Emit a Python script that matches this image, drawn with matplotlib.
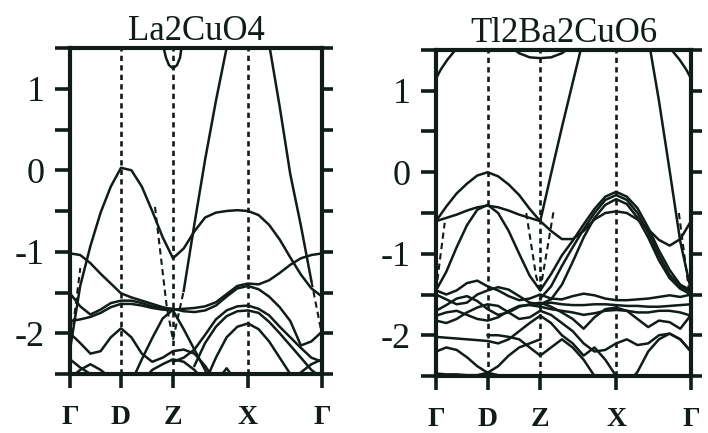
"""
Band structures of La2CuO4 and Tl2Ba2CuO6 along G-D-Z-X-G, energies in eV read off the figure
"""

import numpy as np
import matplotlib.pyplot as plt

nan = np.nan

# high symmetry points (path coordinate) and their labels
kpts = [0.0, 0.51, 1.03, 1.78, 2.52]
klabels = ['Γ', 'D', 'Z', 'X', 'Γ']

# sampling points along the path: G-D | D-Z | Z-X | X-G
k = [0.0, 0.102, 0.204, 0.306, 0.408, 0.51,
     0.614, 0.718, 0.822, 0.926, 1.03,
     1.137, 1.244, 1.351, 1.459, 1.566, 1.673, 1.78,
     1.886, 1.991, 2.097, 2.203, 2.309, 2.414, 2.52]

################# La2CuO4 #####################
la_b1 = [-2.2, -1.42, -0.93, -0.52, -0.2, 0.03,
         0.0, -0.2, -0.5, -0.82, -1.08,
         -0.96, -0.75, -0.58, -0.52, -0.5, -0.49, -0.5,
         -0.55, -0.67, -0.85, -1.07, -1.28, -1.45, -1.55]
la_steep1 = [nan, nan, nan, nan, nan, nan,
             nan, nan, nan, nan, nan,
             -1.48, -0.66, 0.13, 0.85, 1.5, 2.1, nan,
             nan, nan, nan, nan, nan, nan, nan]
la_steep2 = [nan, nan, nan, nan, nan, nan,
             nan, nan, nan, nan, nan,
             nan, nan, nan, nan, nan, nan, nan,
             2.4, 1.55, 0.78, -0.05, -0.68, -1.36, nan]
la_b2 = [-1.02, -1.04, -1.14, -1.27, -1.39, -1.51,
         -1.56, -1.6, -1.64, -1.68, -1.71,
         -1.7, -1.69, -1.67, -1.62, -1.52, -1.42, -1.39,
         -1.4, -1.35, -1.26, -1.16, -1.08, -1.04, -1.02]
la_b3 = [-1.51, -1.67, -1.77, -1.71, -1.63, -1.6,
         -1.6, -1.63, -1.67, -1.69, -1.7,
         -1.73, -1.74, -1.72, -1.66, -1.55, -1.45, -1.42,
         -1.46, -1.55, -1.68, -1.85, -2.15, -2.1, -1.98]
la_b4 = [-1.85, -1.83, -1.8, -1.75, -1.68, -1.64,
         -1.64, -1.66, -1.69, -1.71, -1.72,
         -1.95, -2.2, -2.45, -2.7, nan, nan, nan,
         nan, nan, nan, nan, nan, nan, nan]
la_b5 = [-2.0, -2.12, -2.25, -2.22, -2.05, -1.94,
         -2.05, -2.25, -2.35, -2.3, -2.22,
         -2.2, -2.25, -2.4, -2.6, nan, nan, nan,
         nan, nan, nan, nan, nan, nan, nan]
la_fan = [nan, nan, nan, nan, nan, nan,
          -2.6, -2.32, -2.06, -1.82, -1.71,
          nan, nan, nan, nan, nan, nan, nan,
          nan, nan, nan, nan, nan, nan, nan]
la_cA = [nan, nan, nan, nan, nan, nan,
         nan, nan, nan, nan, -2.35,
         -2.3, -2.2, -2.02, -1.83, -1.72, -1.67, -1.66,
         -1.7, -1.78, -1.92, -2.05, -2.18, -2.3, -2.35]
la_cB = [nan, nan, nan, nan, nan, nan,
         nan, nan, nan, nan, nan,
         nan, -2.4, -2.12, -1.92, -1.79, -1.73, -1.72,
         -1.75, -1.86, -2.0, -2.15, -2.3, -2.45, -2.55]
la_cC = [nan, nan, nan, nan, nan, nan,
         nan, nan, nan, nan, nan,
         nan, nan, -2.6, -2.3, -2.05, -1.92, -1.88,
         -1.95, -2.1, -2.3, -2.5, -2.7, nan, nan]
la_low1 = [-2.32, -2.42, -2.5, -2.6, nan, nan,
           nan, nan, nan, nan, nan,
           nan, nan, nan, nan, nan, nan, nan,
           nan, nan, nan, nan, nan, nan, nan]
la_low2 = [-2.55, -2.45, -2.38, -2.45, -2.55, -2.62,
           nan, nan, nan, nan, nan,
           nan, nan, nan, nan, nan, nan, nan,
           nan, nan, nan, nan, nan, nan, nan]
la_low3 = [nan, nan, nan, nan, nan, nan,
           nan, -2.6, -2.45, -2.38, -2.32,
           -2.35, -2.45, -2.6, nan, nan, nan, nan,
           nan, nan, nan, nan, nan, nan, nan]
la_low4 = [nan, nan, nan, nan, nan, nan,
           nan, nan, nan, nan, nan,
           nan, nan, nan, -2.6, -2.43, -2.6, nan,
           nan, nan, nan, -2.6, -2.48, -2.38, -2.32]
la_bands = [la_b1, la_steep1, la_steep2, la_b2, la_b3, la_b4, la_b5, la_fan,
            la_cA, la_cB, la_cC, la_low1, la_low2, la_low3, la_low4]

# small pocket at Z near the top (own k points)
la_pocket_k = [0.933, 0.96, 0.99, 1.03, 1.07, 1.10, 1.117]
la_pocket_e = [1.52, 1.38, 1.29, 1.25, 1.29, 1.38, 1.52]

# dashed branches (k, E)
la_dashed = [([0.85, 0.967, 1.03], [-0.45, -1.67, -2.08]),
             ([1.03, 1.137], [-2.08, -1.48]),
             ([0.02, 0.103], [-2.02, -1.2]),
             ([2.414, 2.52], [-1.36, -2.02])]

################# Tl2Ba2CuO6 #####################
# curved bands in the top corners at Gamma (own k points)
tl_cornerL_k = [0.0, 0.047, 0.112, 0.178, 0.2]
tl_cornerL_e = [1.15, 1.26, 1.38, 1.48, 1.53]
tl_cornerR_k = [2.52, 2.473, 2.408, 2.342, 2.32]
tl_cornerR_e = [1.15, 1.26, 1.38, 1.48, 1.53]

tl_pocket = [nan, nan, nan, nan, nan, nan,
             nan, 1.56, 1.46, 1.41, 1.40,
             1.41, 1.46, 1.56, nan, nan, nan, nan,
             nan, nan, nan, nan, nan, nan, nan]
tl_a1 = [-0.6, -0.42, -0.26, -0.14, -0.04, 0.0,
         -0.05, -0.15, -0.28, -0.45, -0.6,
         -0.72, -0.82, -0.82, -0.72, -0.58, -0.5, -0.48,
         -0.5, -0.58, -0.7, -0.83, -0.9, -0.82, -0.6]
tl_a2 = [-0.6, -0.56, -0.52, -0.47, -0.43, -0.41,
         -0.43, -0.47, -0.52, -0.56, -0.6,
         -0.02, 0.55, 1.1, 1.65, nan, nan, nan,
         nan, nan, nan, nan, nan, nan, nan]
tl_steep2 = [nan, nan, nan, nan, nan, nan,
             nan, nan, nan, nan, nan,
             nan, nan, nan, nan, nan, nan, nan,
             nan, nan, 1.65, 0.88, 0.02, -0.85, -1.45]
tl_a3 = [-1.45, -1.22, -0.92, -0.65, -0.46, -0.4,
         -0.5, -0.72, -1.0, -1.27, -1.45,
         -1.25, -1.02, -0.84, -0.64, -0.45, -0.3, -0.24,
         -0.3, -0.44, -0.68, -0.96, -1.2, -1.38, -1.45]
tl_xb = [nan, nan, nan, nan, nan, nan,
         nan, nan, nan, nan, -1.55,
         -1.4, -1.15, -0.92, -0.7, -0.5, -0.34, -0.28,
         -0.34, -0.5, -0.74, -1.02, -1.26, -1.4, -1.47]
tl_xc = [nan, nan, nan, nan, nan, nan,
         nan, nan, nan, nan, -1.62,
         -1.56, -1.38, -1.1, -0.8, -0.56, -0.4, -0.33,
         -0.39, -0.56, -0.8, -1.08, -1.3, -1.43, -1.5]
tl_w1 = [-1.45, -1.5, -1.45, -1.36, -1.33, -1.4,
         -1.45, -1.52, -1.57, -1.55, -1.5,
         -1.55, -1.56, -1.52, -1.49, -1.51, -1.55, -1.57,
         -1.57, -1.56, -1.55, -1.53, -1.51, -1.53, -1.5]
tl_w2 = [-1.5, -1.56, -1.62, -1.6, -1.5, -1.45,
         -1.41, -1.44, -1.52, -1.6, -1.62,
         -1.6, -1.62, -1.63, -1.63, -1.62, -1.62, -1.63,
         -1.64, -1.64, -1.65, -1.65, -1.64, -1.63, -1.62]
tl_w3 = [-1.7, -1.63, -1.55, -1.52, -1.58, -1.68,
         -1.75, -1.72, -1.65, -1.62, -1.6,
         -1.65, -1.72, -1.8, -1.92, -1.78, -1.68, -1.66,
         -1.7, -1.8, -1.9, -1.82, -1.84, -1.92, -1.75]
tl_w4 = [-1.76, -1.72, -1.7, -1.75, -1.8, -1.82,
         -1.78, -1.7, -1.64, -1.63, -1.65,
         -1.68, -1.7, -1.72, -1.75, -1.73, -1.7, -1.69,
         -1.7, -1.72, -1.72, -1.7, -1.7, -1.72, -1.76]
tl_w5 = [-1.82, -1.85, -1.8, -1.72, -1.66, -1.62,
         -1.64, -1.72, -1.8, -1.78, -1.7,
         -1.75, -1.85, -1.95, -2.1, -2.2, -2.18, -2.1,
         -2.05, -2.12, -2.1, -2.0, -1.98, -2.05, -2.2]
tl_w6 = [-2.02, -2.03, -2.04, -2.05, -2.06, -2.07,
         -2.1, -2.05, -1.95, -1.85, -1.76,
         -1.85, -2.0, -2.1, -2.25, -2.15, -2.3, -2.5,
         nan, nan, nan, nan, nan, nan, nan]
tl_w7 = [-2.2, -2.15, -2.18, -2.27, -2.38, -2.46,
         -2.38, -2.25, -2.15, -2.1, -2.05,
         nan, nan, nan, nan, nan, nan, nan,
         nan, nan, nan, nan, nan, nan, nan]
tl_w8 = [nan, nan, nan, nan, nan, -2.0,
         -2.0, -2.02, -2.05, -2.15, -2.25,
         -2.15, -2.05, -2.15, -2.3, -2.5, nan, nan,
         nan, nan, nan, nan, nan, nan, nan]
tl_w9 = [nan, nan, nan, nan, nan, nan,
         nan, nan, nan, nan, nan,
         nan, nan, nan, nan, nan, nan, nan,
         -2.6, -2.45, -2.2, -2.05, -1.98, -2.05, -2.2]
tl_bot = [-2.47, -2.48, -2.48, -2.49, -2.49, -2.46,
          -2.49, -2.5, nan, nan, nan,
          nan, nan, nan, nan, nan, nan, nan,
          nan, nan, nan, nan, nan, nan, nan]
tl_bands = [tl_pocket, tl_a1, tl_a2, tl_steep2, tl_a3,
            tl_xb, tl_xc, tl_w1, tl_w2, tl_w3, tl_w4, tl_w5, tl_w6, tl_w7,
            tl_w8, tl_w9, tl_bot]

tl_dashed = [([0.0, 0.086], [-1.45, -0.62]),
             ([0.892, 0.99, 1.03], [-0.5, -1.28, -1.45]),
             ([1.03, 1.166], [-1.45, -0.45]),
             ([2.40, 2.50], [-0.5, -1.45])]

################# plot #####################
plt.rcParams['font.family'] = 'Liberation Serif'
ink = '#101c1a'
lw_band = 1.8

fig = plt.figure(figsize=(7.08, 4.33), dpi=100)
panels = [('La2CuO4', [70/708, 1 - 374/433, 252/708, 326/433], la_bands, la_dashed,
           [(la_pocket_k, la_pocket_e)]),
          ('Tl2Ba2CuO6', [436/708, 1 - 376/433, 255/708, 326/433], tl_bands, tl_dashed,
           [(tl_cornerL_k, tl_cornerL_e), (tl_cornerR_k, tl_cornerR_e)])]

for title, rect, bands, dashed, extra in panels:
    ax = fig.add_axes(rect)
    for e in bands:
        ax.plot(k, e, color=ink, lw=lw_band, solid_joinstyle='round')
    for kk, ee in extra:
        ax.plot(kk, ee, color=ink, lw=lw_band, solid_joinstyle='round')
    for kk, ee in dashed:
        ax.plot(kk, ee, color=ink, lw=1.5, ls=(0, (3, 2)))
    for x in kpts[1:-1]:
        ax.axvline(x, color=ink, lw=1.9, ls=(0, (2, 1.6)))
    ax.set_xlim(kpts[0], kpts[-1])
    ax.set_ylim(-2.5, 1.5)
    ax.set_xticks(kpts)
    ax.set_xticklabels(klabels, fontsize=20, fontweight='bold', color=ink)
    ax.set_yticks([-2, -1, 0, 1])
    ax.set_yticklabels(['-2', '-1', '0', '1'], fontsize=26, color=ink)
    ax.set_yticks([-2.5, -1.5, -0.5, 0.5, 1.5], minor=True)
    ax.tick_params(axis='y', which='both', direction='out', left=True, right=True,
                   length=8, width=2.6, pad=10, color=ink)
    ax.tick_params(axis='x', which='both', direction='out', bottom=True, top=False,
                   length=10, width=2.6, pad=12, color=ink)
    for t in ax.yaxis.get_major_ticks() + ax.yaxis.get_minor_ticks():
        t.tick1line.set_markersize(11)
    for s in ax.spines.values():
        s.set_linewidth(3)
        s.set_color(ink)
    ax.set_title(title, fontsize=25, pad=4, color=ink)

fig.savefig('out.png', dpi=100)
